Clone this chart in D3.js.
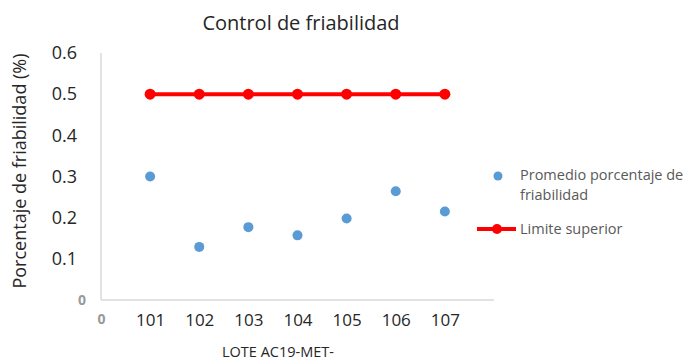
<!DOCTYPE html>
<html>
<head>
<meta charset="utf-8">
<script src="https://d3js.org/d3.v7.min.js"></script>
<style>
  body { margin: 0; background: #fff; }
  svg { display: block; font-family: "Open Sans", sans-serif; }
</style>
</head>
<body>
<svg id="chart" width="694" height="363"></svg>
<script>
const lotes = ["101", "102", "103", "104", "105", "106", "107"];
const promedio = [0.30, 0.129, 0.177, 0.157, 0.198, 0.264, 0.215];
const limite = [0.5, 0.5, 0.5, 0.5, 0.5, 0.5, 0.5];
const yTicks = [0, 0.1, 0.2, 0.3, 0.4, 0.5, 0.6];
const xTickLabels = ["0"].concat(lotes);

const svg = d3.select("#chart");
const x = d3.scaleLinear().domain([0, 8]).range([101, 494]);
const y = d3.scaleLinear().domain([0, 0.6]).range([300, 53]);

// Axes lines
svg.append("line").attr("x1", x(0)).attr("x2", x(0)).attr("y1", y(0.6)).attr("y2", y(0))
  .attr("stroke", "#d9d9d9").attr("stroke-width", 1.5);
svg.append("line").attr("x1", x(0)).attr("x2", x(8)).attr("y1", y(0)).attr("y2", y(0))
  .attr("stroke", "#d9d9d9").attr("stroke-width", 1.5);

// Y axis labels
const yAxis = d3.axisLeft(y).tickValues(yTicks).tickSize(0).tickPadding(24)
  .tickFormat(d => d === 0 ? "0" : d3.format(".1f")(d));
const gy = svg.append("g").attr("transform", `translate(${x(0)},0)`).call(yAxis);
gy.select(".domain").remove();
gy.selectAll("text").attr("font-size", 18).attr("fill", "#262626")
  .attr("font-family", "Open Sans, sans-serif");
gy.selectAll(".tick").filter(d => d === 0).select("text")
  .attr("fill", "#999999").attr("font-size", 14).attr("font-weight", "bold").attr("dx", 9);

// X axis labels
const xAxis = d3.axisBottom(x).tickValues(d3.range(0, 8)).tickSize(0).tickPadding(14)
  .tickFormat((d, i) => xTickLabels[i]);
const gx = svg.append("g").attr("transform", `translate(0,${y(0)})`).call(xAxis);
gx.select(".domain").remove();
gx.selectAll("text").attr("font-size", 17).attr("fill", "#262626")
  .attr("font-family", "Open Sans, sans-serif");
gx.selectAll(".tick").filter(d => d === 0).select("text")
  .attr("fill", "#999999").attr("font-size", 14).attr("font-weight", "bold");

// Limit line
const line = d3.line().x((d, i) => x(i + 1)).y(d => y(d));
svg.append("path").datum(limite).attr("d", line).attr("fill", "none")
  .attr("stroke", "#ff0000").attr("stroke-width", 4);
svg.selectAll(".lim").data(limite).enter().append("circle")
  .attr("cx", (d, i) => x(i + 1)).attr("cy", d => y(d)).attr("r", 5.5).attr("fill", "#ff0000");

// Points
svg.selectAll(".pt").data(promedio).enter().append("circle")
  .attr("cx", (d, i) => x(i + 1)).attr("cy", d => y(d)).attr("r", 5).attr("fill", "#5b9bd5");

// Title
svg.append("text").attr("x", 301).attr("y", 30).attr("text-anchor", "middle")
  .attr("font-size", 20).attr("fill", "#262626").text("Control de friabilidad");

// Y axis title
svg.append("text").attr("transform", "translate(26,171) rotate(-90)").attr("text-anchor", "middle")
  .attr("font-size", 18).attr("fill", "#262626").text("Porcentaje de friabilidad (%)");

// X axis title
svg.append("text").attr("x", 278).attr("y", 357).attr("text-anchor", "middle")
  .attr("font-size", 14.5).attr("fill", "#262626").text("LOTE AC19-MET-");

// Legend
const lg = svg.append("g").attr("font-size", 14.5).attr("fill", "#595959");
lg.append("circle").attr("cx", 498).attr("cy", 176).attr("r", 4.5).attr("fill", "#5b9bd5");
lg.append("text").attr("x", 520).attr("y", 180).text("Promedio porcentaje de");
lg.append("text").attr("x", 520).attr("y", 200).text("friabilidad");
lg.append("line").attr("x1", 477).attr("x2", 516).attr("y1", 229).attr("y2", 229)
  .attr("stroke", "#ff0000").attr("stroke-width", 4);
lg.append("circle").attr("cx", 497).attr("cy", 229).attr("r", 5).attr("fill", "#ff0000");
lg.append("text").attr("x", 520).attr("y", 234).text("Limite superior");
</script>
</body>
</html>
